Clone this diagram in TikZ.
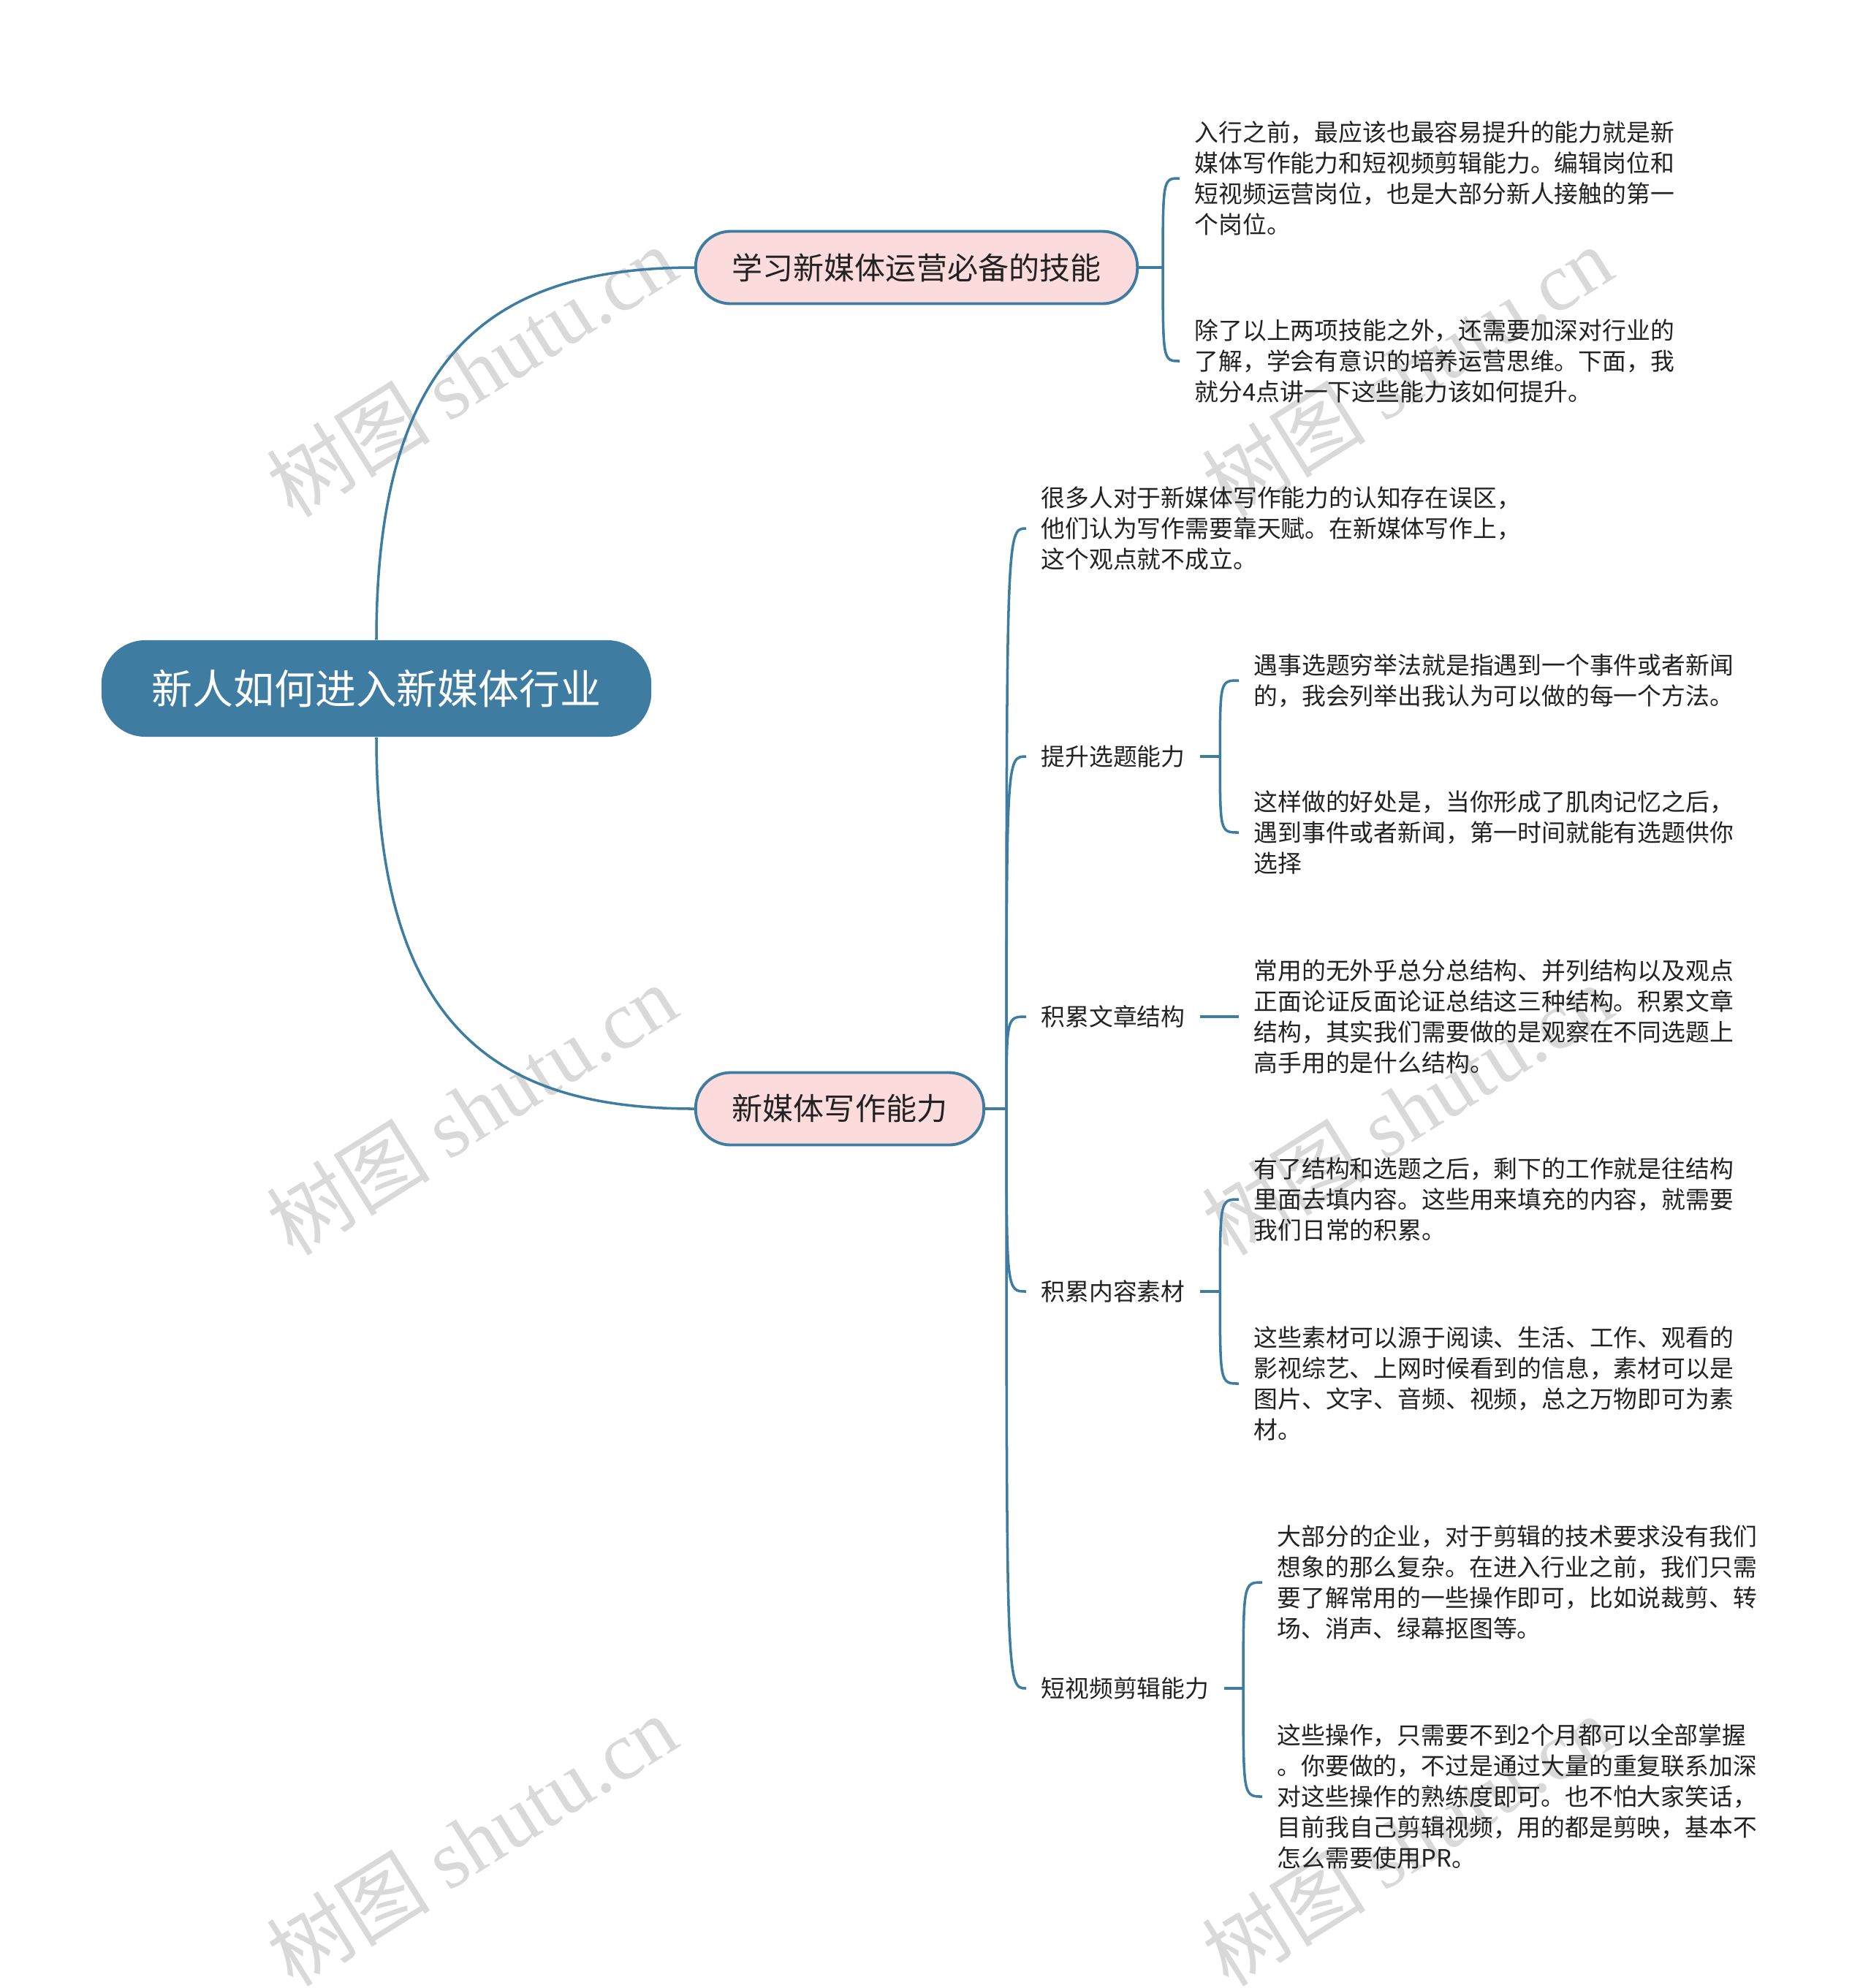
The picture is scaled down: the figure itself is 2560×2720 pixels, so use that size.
\documentclass[tikz,border=0pt]{standalone}
\usepackage{fontspec}
\setmainfont{Noto Sans CJK SC}
\newfontfamily\marklatin{Liberation Serif}
\definecolor{mapblue}{RGB}{62,124,162}
\definecolor{topicpink}{RGB}{251,219,219}
\definecolor{inkdark}{RGB}{34,34,34}
\definecolor{markgray}{RGB}{217,217,217}
\tikzset{
  rootbox/.style={fill=mapblue,text=white,rounded corners=0.6cm,
    minimum width=7.52cm,minimum height=1.32cm,inner sep=0pt,
    font=\fontsize{15.9}{19}\selectfont},
  topic/.style={draw=mapblue,line width=1.1pt,fill=topicpink,text=inkdark,
    rounded corners=0.48cm,minimum height=0.99cm,inner xsep=0.5cm,
    inner ysep=0pt,font=\fontsize{11.95}{14}\selectfont},
  subtopic/.style={anchor=west,text=inkdark,inner xsep=0.2cm,inner ysep=2pt,
    font=\fontsize{9.33}{11.95}\selectfont},
  note/.style={anchor=west,align=left,text=inkdark,inner xsep=0.2cm,
    inner ysep=0pt,font=\fontsize{9.33}{11.95}\selectfont},
  link/.style={draw=mapblue,line width=1pt},
  wmark/.style={text=markgray,rotate=32,inner sep=0pt,
    font=\fontsize{32}{36}\selectfont}
}

\begin{document}
\begin{tikzpicture}[x=0.01cm,y=-0.01cm]
  \useasboundingbox (0,0) rectangle (2560,2720);
  % watermark
  \foreach \wx in {645,1925}
    \foreach \wy in {508,1518,2518}
      \node[wmark] (wm-\wx-\wy) at (\wx,\wy) {树图 {\marklatin shutu.cn}};

  \node[rootbox] (root) at (515,942) {新人如何进入新媒体行业};
  \node[topic] (skill) at (1254,366) {学习新媒体运营必备的技能};
  \node[topic] (write) at (1149,1517) {新媒体写作能力};
  \draw[link] (root.north) to[out=90,in=180,out distance=3.96cm,in distance=2.72cm] (skill.west);
  \draw[link] (root.south) to[out=-90,in=180,out distance=3.96cm,in distance=2.72cm] (write.west);

  % skill branch
  \node[note] (pre) at (1614,244) {入行之前，最应该也最容易提升的能力就是新\\
    媒体写作能力和短视频剪辑能力。编辑岗位和\\
    短视频运营岗位，也是大部分新人接触的第一\\
    个岗位。};
  \node[note] (more) at (1614,494) {除了以上两项技能之外，还需要加深对行业的\\
    了解，学会有意识的培养运营思维。下面，我\\
    就分4点讲一下这些能力该如何提升。};
  \draw[link] (skill.east) -- ++(33,0) coordinate (jskill);
  \foreach \c in {pre,more}
    \draw[link] (jskill) .. controls (jskill |- \c.west) and (jskill |- \c.west) .. (\c.west);

  % writing branch
  \node[note] (myth) at (1404,723) {很多人对于新媒体写作能力的认知存在误区，\\
    他们认为写作需要靠天赋。在新媒体写作上，\\
    这个观点就不成立。};
  \node[subtopic] (topicsel) at (1404,1035) {提升选题能力};
  \node[subtopic] (layout) at (1404,1391) {积累文章结构};
  \node[subtopic] (material) at (1404,1767) {积累内容素材};
  \node[subtopic] (editing) at (1404,2310) {短视频剪辑能力};
  \draw[link] (write.east) -- ++(29,0) coordinate (jwrite);
  \foreach \c in {myth,topicsel,layout,material,editing}
    \draw[link] (jwrite) .. controls (jwrite |- \c.west) and (jwrite |- \c.west) .. (\c.west);

  \node[note] (enum) at (1695,931) {遇事选题穷举法就是指遇到一个事件或者新闻\\
    的，我会列举出我认为可以做的每一个方法。};
  \node[note] (habit) at (1695,1139) {这样做的好处是，当你形成了肌肉记忆之后，\\
    遇到事件或者新闻，第一时间就能有选题供你\\
    选择};
  \draw[link] (topicsel.east) -- ++(27,0) coordinate (jsel);
  \foreach \c in {enum,habit}
    \draw[link] (jsel) .. controls (jsel |- \c.west) and (jsel |- \c.west) .. (\c.west);

  \node[note] (frame) at (1695,1391) {常用的无外乎总分总结构、并列结构以及观点\\
    正面论证反面论证总结这三种结构。积累文章\\
    结构，其实我们需要做的是观察在不同选题上\\
    高手用的是什么结构。};
  \draw[link] (layout.east) -- (frame.west);

  \node[note] (fill) at (1695,1641) {有了结构和选题之后，剩下的工作就是往结构\\
    里面去填内容。这些用来填充的内容，就需要\\
    我们日常的积累。};
  \node[note] (source) at (1695,1893) {这些素材可以源于阅读、生活、工作、观看的\\
    影视综艺、上网时候看到的信息，素材可以是\\
    图片、文字、音频、视频，总之万物即可为素\\
    材。};
  \draw[link] (material.east) -- ++(27,0) coordinate (jmat);
  \foreach \c in {fill,source}
    \draw[link] (jmat) .. controls (jmat |- \c.west) and (jmat |- \c.west) .. (\c.west);

  \node[note] (basic) at (1727,2165) {大部分的企业，对于剪辑的技术要求没有我们\\
    想象的那么复杂。在进入行业之前，我们只需\\
    要了解常用的一些操作即可，比如说裁剪、转\\
    场、消声、绿幕抠图等。};
  \node[note] (practice) at (1727,2458) {这些操作，只需要不到2个月都可以全部掌握\\
    。你要做的，不过是通过大量的重复联系加深\\
    对这些操作的熟练度即可。也不怕大家笑话，\\
    目前我自己剪辑视频，用的都是剪映，基本不\\
    怎么需要使用PR。};
  \draw[link] (editing.east) -- ++(26,0) coordinate (jedit);
  \foreach \c in {basic,practice}
    \draw[link] (jedit) .. controls (jedit |- \c.west) and (jedit |- \c.west) .. (\c.west);
\end{tikzpicture}
\end{document}
